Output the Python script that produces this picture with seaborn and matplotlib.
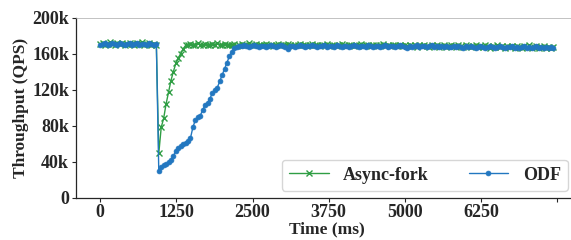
import numpy as np
import pandas as pd
import matplotlib
matplotlib.use("Agg")
import matplotlib.pyplot as plt
import seaborn as sns

# sample times (ms), one sample every 40 ms
time_ms = np.arange(0, 7480, 40)

# throughput in thousands of QPS
async_pre = [171, 172, 170, 171, 173, 171, 170, 172, 171, 172, 170, 171,
             172, 171, 170, 172, 171, 173, 170, 171, 172, 170, 171, 170]
async_recover = [49, 78, 88, 104, 117, 130, 140, 149, 155, 160, 165, 169]
async_post = [
    170, 171, 169, 170, 172, 170, 169, 171, 170, 169, 171, 170, 172, 169, 170,
    171, 169, 170, 170, 171, 168, 170, 171, 169, 170, 172, 170, 169, 171, 170,
    169, 170, 171, 169, 170, 168, 170, 171, 169, 170, 169, 171, 170, 168, 170,
    169, 171, 169, 170, 168, 169, 171, 169, 170, 168, 170, 169, 171, 168, 169,
    170, 168, 169, 171, 169, 168, 170, 169, 168, 170, 169, 171, 168, 169, 170,
    168, 169, 170, 168, 169, 171, 168, 169, 168, 170, 169, 168, 170, 168, 169,
    168, 170, 168, 169, 167, 169, 168, 170, 168, 167, 169, 168, 169, 167, 168,
    169, 167, 168, 170, 168, 167, 169, 168, 167, 169, 168, 167, 168, 169, 167,
    168, 167, 169, 168, 166, 168, 167, 169, 167, 168, 166, 168, 167, 168, 166,
    168, 167, 166, 168, 167, 169, 166, 167, 168, 166, 167, 168, 166, 167, 166, 167,
]

odf_pre = [170, 171, 172, 170, 171, 172, 171, 170, 172, 171, 170, 171,
           172, 170, 171, 172, 170, 171, 171, 170, 172, 171, 170, 171]
odf_recover = [29, 34, 36, 37, 39, 42, 46, 52, 55, 57, 59, 61, 63, 66, 78, 86,
               89, 91, 97, 103, 105, 110, 116, 119, 122, 129, 136, 143, 150,
               157, 162, 166]
odf_post = [
    167, 168, 168, 169, 168, 167, 168, 169, 168, 167, 168, 168, 167, 168, 169,
    168, 167, 168, 169, 168, 167, 165, 168, 168, 167, 168, 169, 168, 167, 168,
    168, 169, 168, 167, 168, 168, 169, 167, 168, 168, 167, 169, 168, 167, 168,
    168, 167, 168, 169, 168, 167, 168, 168, 167, 169, 168, 167, 168, 168, 167,
    168, 169, 167, 168, 168, 167, 168, 169, 168, 167, 166, 168, 167, 168, 169,
    167, 168, 168, 167, 168, 169, 167, 168, 167, 168, 167, 168, 167, 167, 168,
    167, 168, 167, 166, 168, 167, 168, 167, 166, 167, 168, 167, 166, 167, 168,
    167, 166, 167, 168, 167, 166, 167, 167, 168, 166, 167, 166, 167, 168, 166,
    167, 166, 167, 168, 166, 167, 166, 167, 166, 167, 166,
]

async_fork = async_pre + async_recover + async_post
odf = odf_pre + odf_recover + odf_post

xticks = [0, 1250, 2500, 3750, 5000, 6250, 7500]
xtick_labels = ["0", "1250", "2500", "3750", "5000", "6250", ""]
yticks = [0, 40, 80, 120, 160, 200]
ytick_labels = ["0", "40k", "80k", "120k", "160k", "200k"]

sns.set_style("ticks")
plt.rcParams["font.family"] = ["Liberation Serif", "DejaVu Serif"]
plt.rcParams["font.weight"] = "bold"
plt.rcParams["font.size"] = 13

df = pd.DataFrame({"t": time_ms, "Async-fork": async_fork, "ODF": odf})

green = "#2f9e44"
blue = "#2277c0"

fig = plt.figure(figsize=(5.71, 2.40), dpi=100)
ax = fig.add_axes([0.133, 0.177, 0.879, 0.75])

sns.lineplot(data=df, x="t", y="Async-fork", ax=ax, color=green,
             marker="x", markersize=5, markeredgewidth=1.0,
             markeredgecolor=green, linewidth=1.0, label="Async-fork")
sns.lineplot(data=df, x="t", y="ODF", ax=ax, color=blue,
             marker="o", markersize=3.5, markeredgewidth=0.5,
             markeredgecolor=blue, linewidth=1.0, label="ODF")

ax.set_xlim(-400, 7840)
ax.set_ylim(0, 200)
ax.set_xticks(xticks)
ax.set_xticklabels(xtick_labels, fontweight="bold")
ax.set_yticks(yticks)
ax.set_yticklabels(ytick_labels, fontweight="bold")
ax.tick_params(length=3, pad=2)
ax.set_xlabel("Time (ms)", fontweight="bold", fontsize=12.5, labelpad=0)
ax.set_ylabel("Throughput (QPS)", fontweight="bold", fontsize=12.5, labelpad=2)
for s in ax.spines.values():
    s.set_linewidth(0.9)
ax.spines["top"].set_linewidth(0.5)
ax.spines["top"].set_color("#aaaaaa")

ax.legend(loc="lower right", bbox_to_anchor=(568 / 571, 1 - 191 / 240),
          bbox_transform=fig.transFigure, borderaxespad=0, ncol=2,
          frameon=True, prop={"weight": "bold", "size": 13},
          handlelength=2.2, columnspacing=2.2, fancybox=True)

fig.savefig("out.png", dpi=100)
